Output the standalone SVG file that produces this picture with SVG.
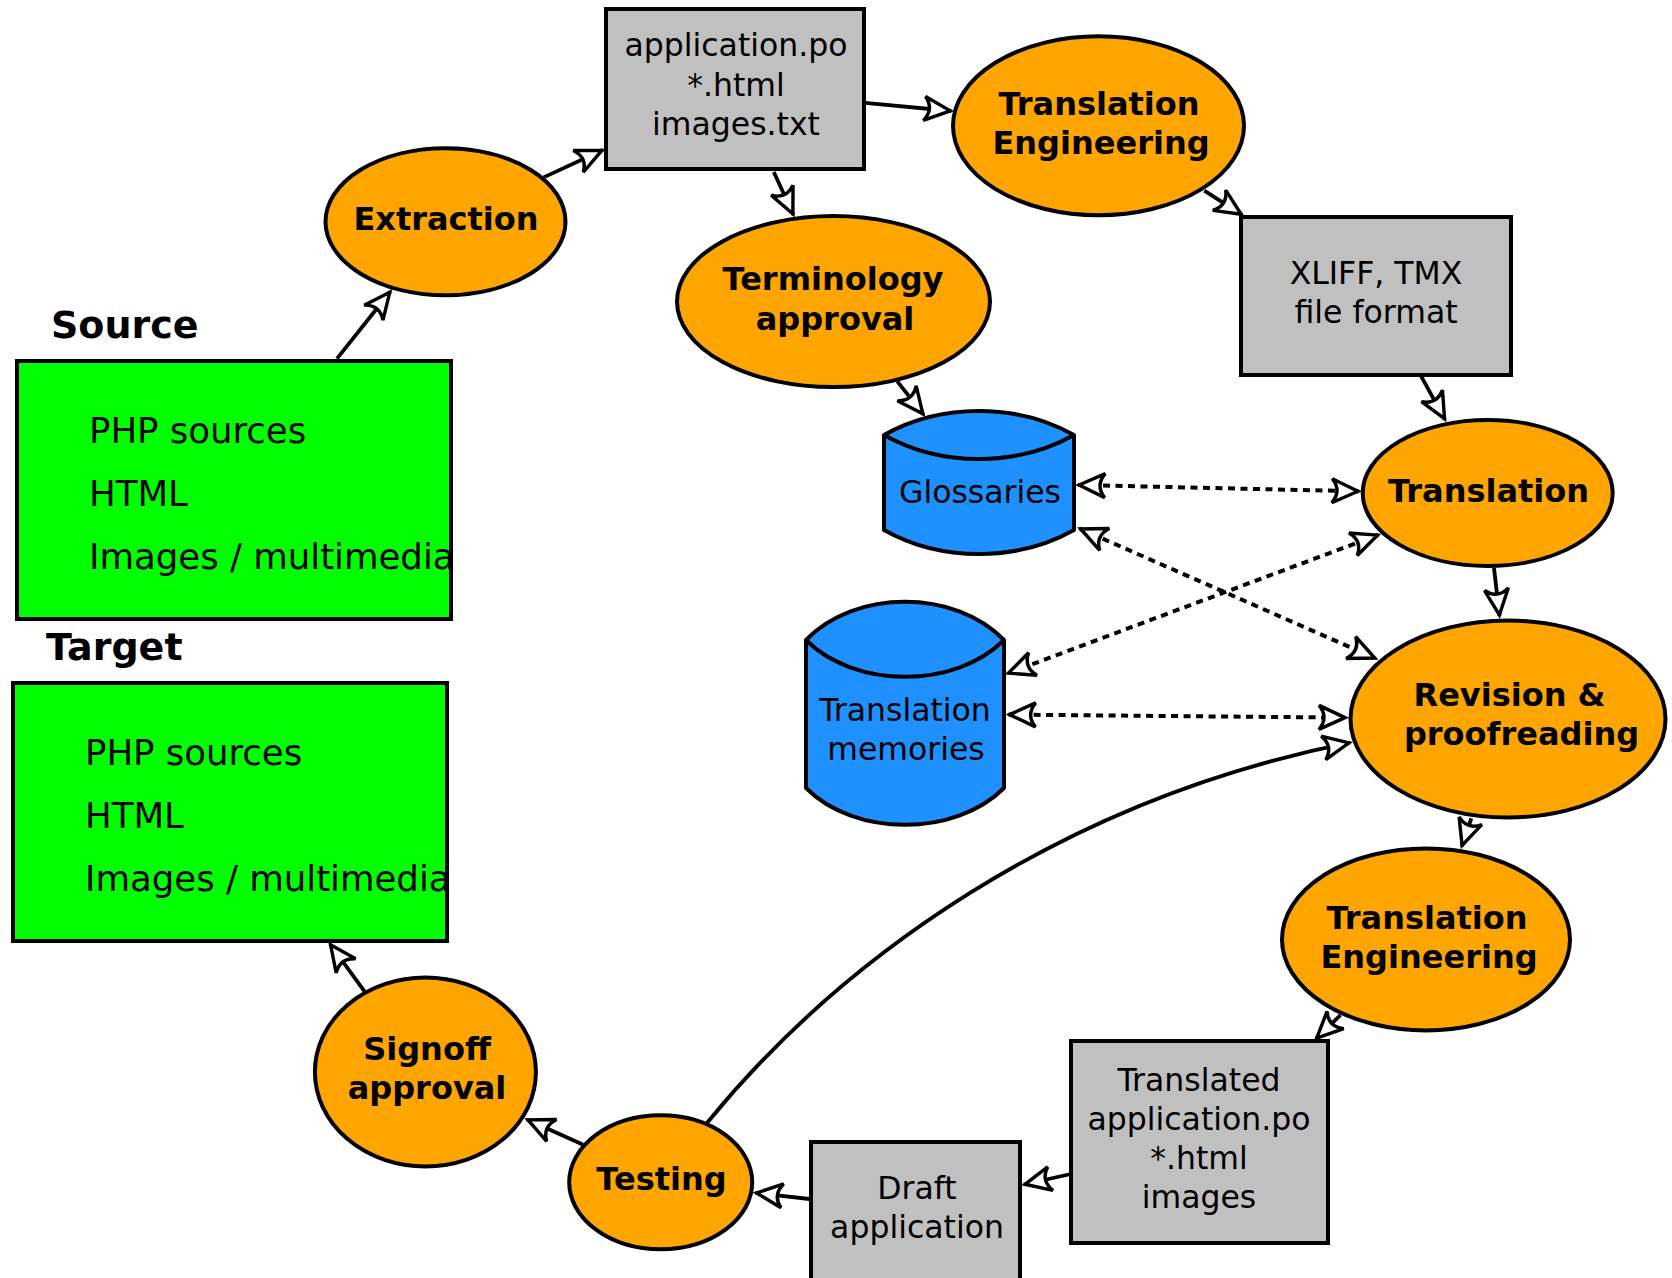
<svg xmlns="http://www.w3.org/2000/svg" width="1672" height="1278" viewBox="0 0 1672 1278">
<style>
text{font-family:"DejaVu Sans","Liberation Sans",sans-serif;fill:#000}
.b{font-weight:bold;font-size:32px;text-anchor:middle}
.r{font-size:31.5px;text-anchor:middle}
.g{font-size:35.5px}
.lbl{font-weight:bold;font-size:38px}
.proc{fill:#ffa500;stroke:#000;stroke-width:4}
.file{fill:#c0c0c0;stroke:#000;stroke-width:4}
.grn{fill:#00ff00;stroke:#000;stroke-width:4}
.db{fill:#1e90ff;stroke:#000;stroke-width:4;stroke-linejoin:round}
.c{fill:none;stroke:#000;stroke-width:3.8;marker-end:url(#ah)}
.d{fill:none;stroke:#000;stroke-width:4;stroke-dasharray:7 5.5;marker-start:url(#ah);marker-end:url(#ah)}
</style>
<defs>
<marker id="ah" viewBox="-32 -16 36 32" refX="0" refY="0" markerWidth="36" markerHeight="32" markerUnits="userSpaceOnUse" orient="auto-start-reverse">
<path d="M-1,0 L-27,-12 Q-17,0 -27,12 Z" fill="#fff" stroke="#000" stroke-width="3.4"/>
</marker>
</defs>
<rect width="1672" height="1278" fill="#fff"/>

<g id="connectors">
<path class="c" d="M337,358.6 L390.4,291.5"/>
<path class="c" d="M543.6,177.4 L602.8,150"/>
<path class="c" d="M773.8,172 L793.3,214.8"/>
<path class="c" d="M865,102.8 L951.3,111"/>
<path class="c" d="M1204.3,190.7 L1242,214.8"/>
<path class="c" d="M1421.2,376.4 L1445,419.6"/>
<path class="c" d="M897.3,381.4 L923.5,414.6"/>
<path class="c" d="M1494,568 L1499.5,616"/>
<path class="c" d="M1471.3,818.3 L1461.8,846.4"/>
<path class="c" d="M1340.6,1015 L1316,1038.8"/>
<path class="c" d="M1070.9,1174 L1024,1184.5"/>
<path class="c" d="M809.4,1199 L755.5,1192.8"/>
<path class="c" d="M582.7,1144.5 L527,1119.4"/>
<path class="c" d="M364.5,991.4 L330,944"/>
<path class="c" d="M707,1123 C840,960 1060,800 1350,742.7"/>
<path class="d" d="M1078,485 L1359,491.3"/>
<path class="d" d="M1079.8,528.6 L1375.6,658.4"/>
<path class="d" d="M1378.4,534.8 L1007.5,673.5"/>
<path class="d" d="M1008.6,714.6 L1346,717.6"/>
</g>

<g id="source">
<text class="lbl" x="51" y="338">Source</text>
<rect class="grn" x="17" y="361" width="434" height="258"/>
<text class="g" x="89" y="443">PHP sources</text>
<text class="g" x="89" y="506">HTML</text>
<text class="g" x="89" y="569">Images / multimedia</text>
</g>

<g id="target">
<text class="lbl" x="46" y="660">Target</text>
<rect class="grn" x="13" y="683" width="434" height="258"/>
<text class="g" x="85" y="765">PHP sources</text>
<text class="g" x="85" y="828">HTML</text>
<text class="g" x="85" y="891">Images / multimedia</text>
</g>

<g id="extraction">
<ellipse class="proc" cx="445.5" cy="221.7" rx="120" ry="73.5"/>
<text class="b" x="446" y="230">Extraction</text>
</g>

<g id="source-files">
<rect class="file" x="606" y="9" width="258" height="160"/>
<text class="r" x="736" y="56">application.po</text>
<text class="r" x="736" y="96">*.html</text>
<text class="r" x="736" y="135">images.txt</text>
</g>

<g id="translation-engineering-1">
<ellipse class="proc" cx="1098.5" cy="125.8" rx="145.5" ry="89.5"/>
<text class="b" x="1099" y="115">Translation</text>
<text class="b" x="1101" y="154">Engineering</text>
</g>

<g id="terminology-approval">
<ellipse class="proc" cx="833.5" cy="301.6" rx="156.5" ry="85.5"/>
<text class="b" x="833" y="290">Terminology</text>
<text class="b" x="835" y="329.5">approval</text>
</g>

<g id="xliff">
<rect class="file" x="1241" y="217" width="270" height="158"/>
<text class="r" x="1376" y="284">XLIFF, TMX</text>
<text class="r" x="1376" y="322.5">file format</text>
</g>

<g id="glossaries">
<path class="db" d="M884,435 C941,403 1017,403 1074,435 L1074,530 C1017,562 941,562 884,530 Z"/>
<path class="db" fill="none" d="M884,435 C941,467 1017,467 1074,435"/>
<text class="r" x="980" y="502.5">Glossaries</text>
</g>

<g id="translation">
<ellipse class="proc" cx="1487.7" cy="493" rx="125" ry="73"/>
<text class="b" x="1488.5" y="501.5">Translation</text>
</g>

<g id="translation-memories">
<path class="db" d="M806,640 C855,589 955,589 1004,640 L1004,788 C955,837 855,837 806,788 Z"/>
<path class="db" fill="none" d="M806,640 C855,689 955,689 1004,640"/>
<text class="r" x="905" y="721">Translation</text>
<text class="r" x="906" y="760">memories</text>
</g>

<g id="revision">
<ellipse class="proc" cx="1508" cy="719" rx="157.5" ry="98.5"/>
<text class="b" x="1509.5" y="706">Revision &amp;</text>
<text class="b" x="1521.5" y="745">proofreading</text>
</g>

<g id="translation-engineering-2">
<ellipse class="proc" cx="1426" cy="939.4" rx="144" ry="91"/>
<text class="b" x="1427" y="928.5">Translation</text>
<text class="b" x="1429" y="967.5">Engineering</text>
</g>

<g id="translated-files">
<rect class="file" x="1071" y="1041" width="257" height="202"/>
<text class="r" x="1199" y="1091">Translated</text>
<text class="r" x="1199" y="1130">application.po</text>
<text class="r" x="1199" y="1169">*.html</text>
<text class="r" x="1199" y="1208">images</text>
</g>

<g id="draft-application">
<rect class="file" x="811" y="1142" width="209" height="160"/>
<text class="r" x="917" y="1199">Draft</text>
<text class="r" x="917" y="1238">application</text>
</g>

<g id="testing">
<ellipse class="proc" cx="660.7" cy="1182.3" rx="91.5" ry="67"/>
<text class="b" x="661.5" y="1190">Testing</text>
</g>

<g id="signoff-approval">
<ellipse class="proc" cx="425.4" cy="1072" rx="110.5" ry="94.5"/>
<text class="b" x="427" y="1060">Signoff</text>
<text class="b" x="427" y="1098.5">approval</text>
</g>
</svg>
